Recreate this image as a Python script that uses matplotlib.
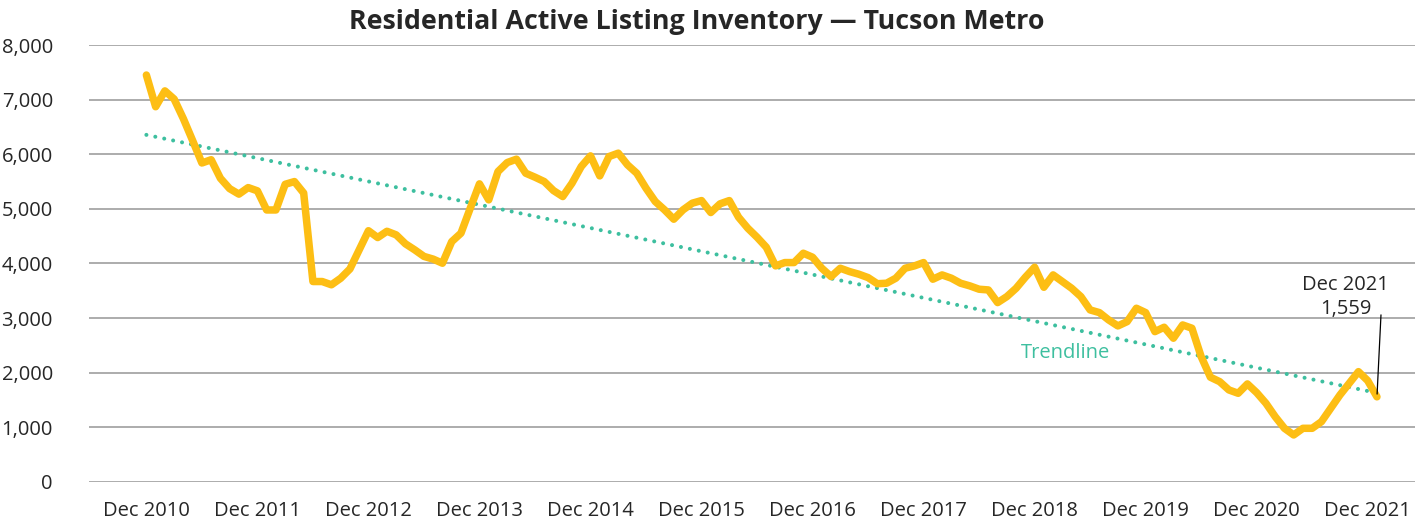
import numpy as np
import matplotlib
matplotlib.use('Agg')
import matplotlib.pyplot as plt

plt.rcParams['font.family'] = ['Open Sans', 'DejaVu Sans']

# monthly active listings
inventory = [7450, 6870, 7160, 7010, 6650, 6250, 5840, 5900, 5560, 5370, 5270, 5390,
             5330, 4980, 4980, 5450, 5500, 5290, 3670, 3670, 3610, 3730, 3900, 4250,
             4600, 4475, 4590, 4524, 4360, 4250, 4130, 4080, 4005, 4400, 4555, 5010,
             5458, 5165, 5683, 5848, 5910, 5653, 5580, 5500, 5335, 5226, 5470, 5775,
             5971, 5604, 5958, 6020, 5806, 5653, 5378, 5134, 4982, 4811, 4982, 5104,
             5152, 4933, 5092, 5152, 4848, 4646, 4481, 4298, 3956, 4017, 4017, 4188,
             4115, 3913, 3760, 3913, 3852, 3804, 3742, 3630, 3639, 3731, 3913, 3956,
             4017, 3712, 3791, 3731, 3639, 3590, 3529, 3516, 3284, 3394, 3547, 3749,
             3932, 3565, 3791, 3669, 3547, 3394, 3150, 3101, 2967, 2857, 2936, 3181,
             3101, 2753, 2833, 2632, 2875, 2815, 2295, 1918, 1837, 1685, 1624, 1795,
             1636, 1441, 1196, 983, 861, 983, 983, 1104, 1350, 1593, 1808, 2020,
             1855, 1559]
tick_labels = ['Dec 2010', 'Dec 2011', 'Dec 2012', 'Dec 2013', 'Dec 2014', 'Dec 2015',
               'Dec 2016', 'Dec 2017', 'Dec 2018', 'Dec 2019', 'Dec 2020', 'Dec 2021']
last_label = 'Dec 2021'
# trendline ends as drawn on the chart
trend_start = 6355
trend_end = 1630

gold = '#FDBE14'
teal = '#3DBF9F'
text_col = '#262626'

x = np.arange(len(inventory))
y = np.array(inventory)
trend = np.linspace(trend_start, trend_end, len(inventory))

fig = plt.figure(figsize=(14.22, 5.32), dpi=100)
ax = fig.add_axes([0.0626, 0.094, 0.9324, 0.8214])

ax.plot(x, trend, color=teal, lw=2.9, linestyle=(0, (0.01, 2.25)),
        dash_capstyle='round', zorder=2)
ax.plot(x, y, color=gold, lw=5.4, solid_joinstyle='round', solid_capstyle='round', zorder=3)

ax.set_ylim(0, 8000)
ax.set_xlim(-6.2, 137.1)
ax.set_yticks(range(0, 8001, 1000))
ax.set_yticklabels([f'{v:,}' for v in range(0, 8001, 1000)])
ax.set_xticks(range(0, len(inventory), 12))
ax.set_xticklabels(tick_labels)
ax.tick_params(axis='both', length=0, labelsize=14.5, colors=text_col)
ax.tick_params(axis='y', pad=26)
ax.tick_params(axis='x', pad=14)
ax.grid(axis='y', color='#A6A6A6', lw=1.3)
ax.set_axisbelow(True)
for s in ax.spines.values():
    s.set_visible(False)

ax.text(94.5, 2360, 'Trendline', color=teal, fontsize=14.5, ha='left', va='center')

ax.text(129.6, 3380, f'{last_label}\n{inventory[-1]:,}', color=text_col, fontsize=14.5,
        ha='center', va='center', linespacing=1.25)
ax.annotate('', xy=(x[-1], inventory[-1]), xytext=(x[-1] + 0.45, 3110),
            arrowprops=dict(arrowstyle='-', lw=0.9, color='black'))

fig.suptitle('Residential Active Listing Inventory \u2014 Tucson Metro', x=0.49, y=0.984,
             fontsize=19.3, fontweight='bold', color=text_col, va='top')

fig.savefig('out.png', dpi=100)
